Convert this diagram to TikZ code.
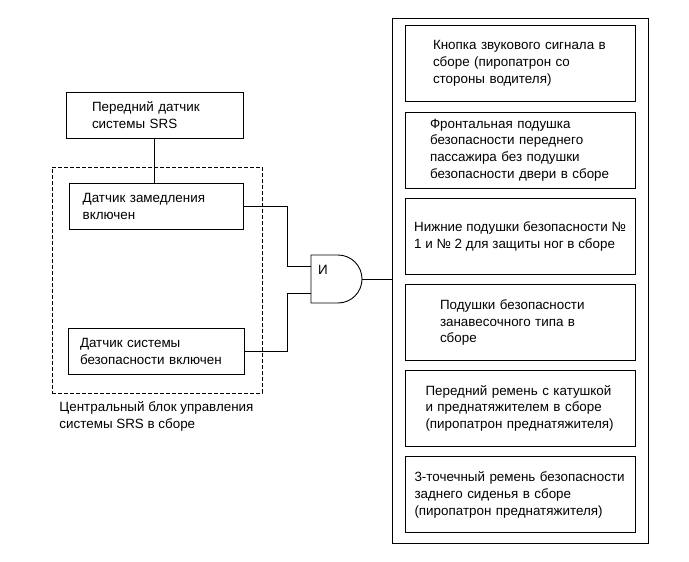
\documentclass[tikz,border=0pt]{standalone}
\usepackage{fontspec}
\setmainfont{Liberation Sans}

\begin{document}
\begin{tikzpicture}[x=1pt,y=-1pt,line width=0.9pt,
  every node/.style={font=\fontsize{13.4}{16.8}\selectfont,inner sep=0pt},
  sensor/.style={draw,line width=0.9pt,minimum height=46pt,align=left},
  unitbox/.style={draw,line width=0.9pt,minimum width=230pt,minimum height=76pt,align=left}]
\useasboundingbox (0,0) rectangle (689,562);
% left: SRS unit
\node[sensor,minimum width=177pt,text width=125pt] (front) at (154.5,115.4) {Передний датчик\\системы SRS};
\node[draw,dashed,dash pattern=on 4pt off 2pt,minimum width=210pt,minimum height=226pt] (ecu) at (157,280) {};
\node[sensor,minimum width=174pt,text width=147pt] (decel) at (156.2,206.7) {Датчик замедления\\включен};
\node[sensor,minimum width=176pt,text width=152pt] (safety) at (156,351.5) {Датчик системы\\безопасности включен};
\node[anchor=west,align=left] (ecu_lbl) at (59,416.5) {Центральный блок управления\\системы SRS в сборе};
% AND gate
\coordinate (in1) at (311,266.7);
\coordinate (in2) at (311,293.3);
\coordinate (gout) at (362,279);
\draw (311,255) -- (338,255) arc[start angle=-90,end angle=90,radius=24] -- (311,303) -- cycle;
\node (and_lbl) at (323,270) {И};
% right: deployed parts
\node[draw,minimum width=256pt,minimum height=525pt] (outputs) at (520,280.5) {};
\node[unitbox,text width=174pt] (horn) at (520,63.4) {Кнопка звукового сигнала в\\сборе (пиропатрон со\\стороны водителя)};
\node[unitbox,text width=180pt] (pass) at (520,150) {Фронтальная подушка\\безопасности переднего\\пассажира без подушки\\безопасности двери в сборе};
\node[unitbox] (knee) at (520,236.5) {Нижние подушки безопасности №\\1 и № 2 для защиты ног в сборе};
\node[unitbox,text width=160pt] (curtain) at (520,322.5) {Подушки безопасности\\занавесочного типа в\\сборе};
\node[unitbox,text width=189pt] (frontbelt) at (520,408.4) {Передний ремень с катушкой\\и преднатяжителем в сборе\\(пиропатрон преднатяжителя)};
\node[unitbox,text width=211pt] (rearbelt) at (520,494.7) {3-точечный ремень безопасности\\заднего сиденья в сборе\\(пиропатрон преднатяжителя)};
% wires
\draw (front.south) -- (front.south |- decel.north);
\draw (decel.east) -| ([xshift=-24pt]in1) -- (in1);
\draw (safety.east) -| ([xshift=-24pt]in2) -- (in2);
\draw (gout) -- (gout -| outputs.west);
\end{tikzpicture}
\end{document}
